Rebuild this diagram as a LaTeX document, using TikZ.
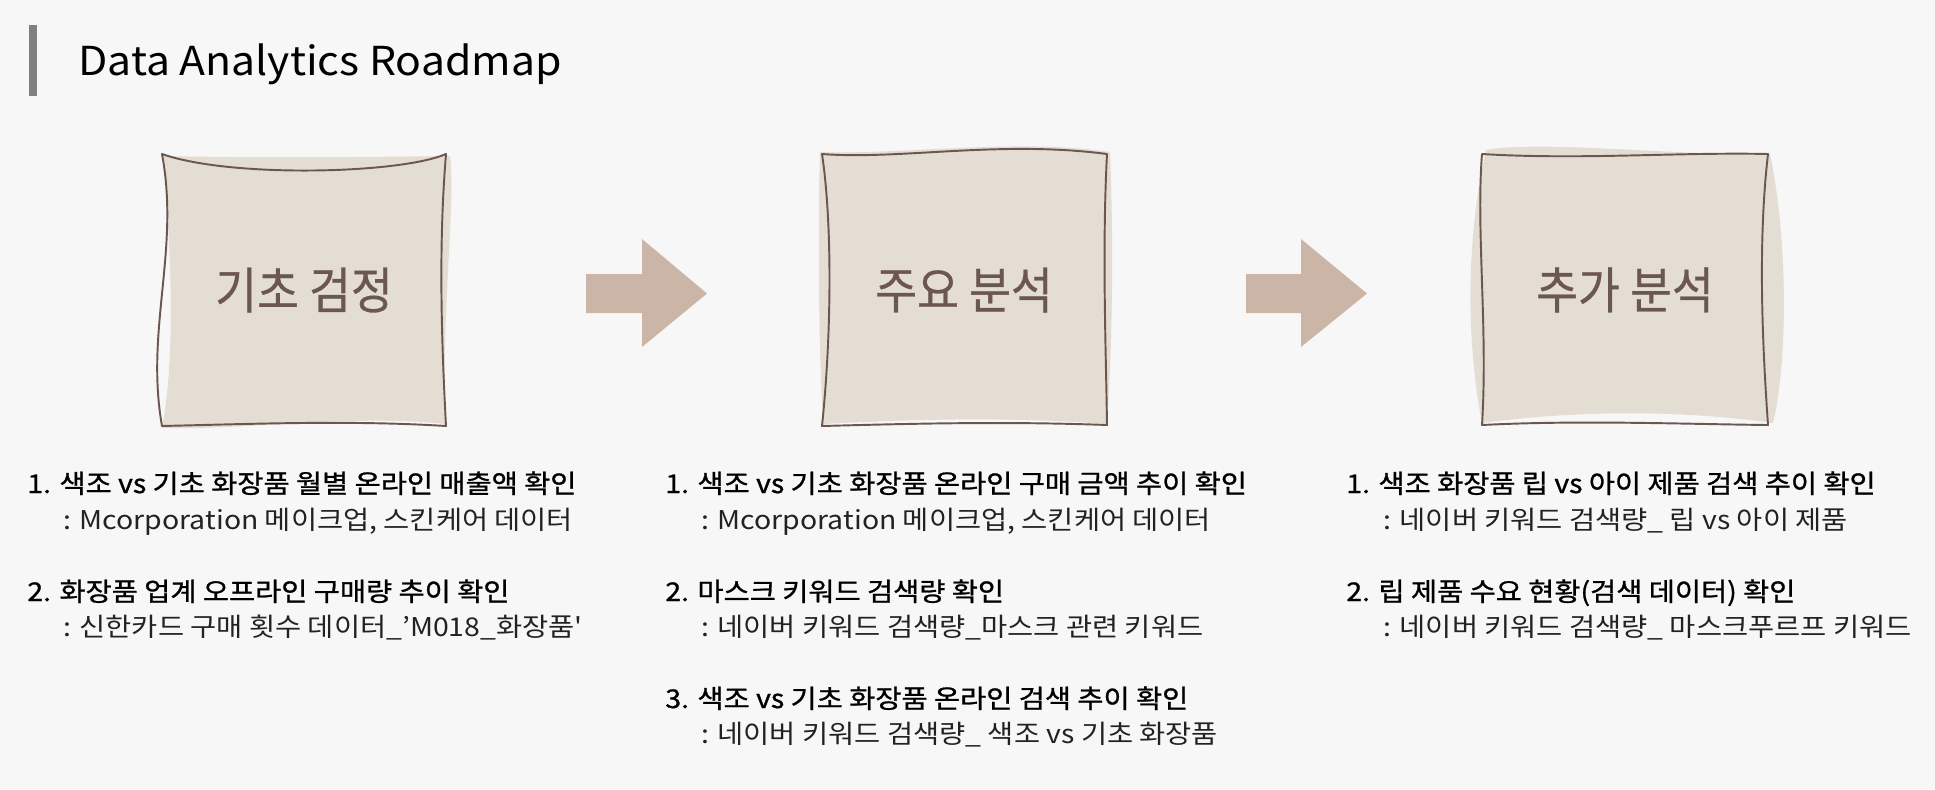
\documentclass[tikz,border=0pt]{standalone}
\usepackage{fontspec}
\setmainfont{Noto Sans CJK KR}
\newfontfamily\titlefont[FakeStretch=1.07]{Noto Sans CJK KR}
\newfontfamily\bodyfont[FakeStretch=1.1]{Noto Sans CJK KR}
\newfontfamily\headfont[FakeStretch=1.1, FakeBold=1.0]{Noto Sans CJK KR}
\newfontfamily\labelfont[FakeStretch=0.915, FakeBold=0.6]{Noto Sans CJK KR}
\definecolor{paper}{HTML}{F7F7F7}
\definecolor{padfill}{HTML}{E4DDD3}
\definecolor{padline}{HTML}{6B5750}
\definecolor{arrowfill}{HTML}{CBB5A7}
\definecolor{barcol}{HTML}{808080}
\definecolor{subtext}{HTML}{222222}
\tikzset{
  pad/.style={fill=padfill},
  padedge/.style={draw=padline, line width=1.1pt, line join=round},
  padlabel/.style={inner sep=0pt, text=padline, font=\labelfont\fontsize{28.3}{34}\selectfont},
  head/.style={anchor=base west, inner sep=0pt, text=black, font=\headfont\fontsize{14.7}{17}\selectfont},
  sub/.style={anchor=base west, inner sep=0pt, text=subtext, font=\bodyfont\fontsize{14.7}{17}\selectfont},
  blockarrow/.style={fill=arrowfill}
}
\begin{document}
\begin{tikzpicture}[x=0.02cm, y=-0.02cm]
\useasboundingbox (0,0) rectangle (1935,789);
\fill [paper] (0,0) rectangle (1935,789);
\fill [barcol] (29,25) rectangle (37,96);
\node [anchor=base west, inner sep=0pt, font=\titlefont\fontsize{22.7}{27}\selectfont] (title) at (78,75) {Data Analytics Roadmap};
\fill [pad] (163,156) .. controls (250,158) and (380,157) .. (450,156) .. controls (456,200) and (440,330) .. (446,424) .. controls (350,414) and (250,430) .. (162,428) .. controls (175,360) and (172,260) .. (163,156) -- cycle;
\draw [padedge] (162,154) .. controls (230,178) and (400,174) .. (446,154) .. controls (438,250) and (442,350) .. (446,426) .. controls (350,420) and (250,424) .. (162,426) .. controls (145,330) and (180,250) .. (162,154) -- cycle;
\node [padlabel] (basics) at (304,290) {기초 검정};
\fill [blockarrow] (586,274) -- (642,274) -- (642,239) -- (707,293.5) -- (642,347) -- (642,313) -- (586,313) -- cycle;
\fill [pad] (820,152) .. controls (900,155) and (1020,138) .. (1110,152) .. controls (1114,250) and (1112,350) .. (1107,424) .. controls (1000,416) and (900,420) .. (823,424) .. controls (818,330) and (818,220) .. (820,152) -- cycle;
\draw [padedge] (822,154) .. controls (900,160) and (1000,140) .. (1107,154) .. controls (1102,250) and (1106,350) .. (1107,425) .. controls (1000,421) and (900,424) .. (822,426) .. controls (832,330) and (832,220) .. (822,154) -- cycle;
\node [padlabel] (mainstep) at (964,290) {주요 분석};
\fill [blockarrow] (1246,274) -- (1301,274) -- (1301,239) -- (1367,293.5) -- (1301,347) -- (1301,313) -- (1246,313) -- cycle;
\fill [pad] (1486,150) .. controls (1540,140) and (1680,156) .. (1770,154) .. controls (1788,240) and (1788,360) .. (1773,423) .. controls (1680,410) and (1580,410) .. (1482,423) .. controls (1466,340) and (1466,240) .. (1486,150) -- cycle;
\draw [padedge] (1482,154) .. controls (1580,160) and (1680,152) .. (1768,154) .. controls (1758,240) and (1762,340) .. (1768,425) .. controls (1680,424) and (1580,420) .. (1482,425) .. controls (1488,330) and (1476,230) .. (1482,154) -- cycle;
\node [padlabel] (extra) at (1625,290) {추가 분석};
\node [head] (b1) at (27,493) {1. 색조 vs 기초 화장품 월별 온라인 매출액 확인};
\node [sub] (b1s) at (63,529) {: Mcorporation 메이크업, 스킨케어 데이터};
\node [head] (b2) at (27,601) {2. 화장품 업계 오프라인 구매량 추이 확인};
\node [sub] (b2s) at (63,636) {: 신한카드 구매 횟수 데이터\_’M018\_화장품\textquotesingle};
\node [head] (m1) at (665,493) {1. 색조 vs 기초 화장품 온라인 구매 금액 추이 확인};
\node [sub] (m1s) at (701,529) {: Mcorporation 메이크업, 스킨케어 데이터};
\node [head] (m2) at (665,601) {2. 마스크 키워드 검색량 확인};
\node [sub] (m2s) at (701,636) {: 네이버 키워드 검색량\_마스크 관련 키워드};
\node [head] (m3) at (665,708) {3. 색조 vs 기초 화장품 온라인 검색 추이 확인};
\node [sub] (m3s) at (701,743) {: 네이버 키워드 검색량\_ 색조 vs 기초 화장품};
\node [head] (e1) at (1346,493) {1. 색조 화장품 립 vs 아이 제품 검색 추이 확인};
\node [sub] (e1s) at (1383,529) {: 네이버 키워드 검색량\_ 립 vs 아이 제품};
\node [head] (e2) at (1346,601) {2. 립 제품 수요 현황(검색 데이터) 확인};
\node [sub] (e2s) at (1383,636) {: 네이버 키워드 검색량\_ 마스크푸르프 키워드};
\end{tikzpicture}
\end{document}
